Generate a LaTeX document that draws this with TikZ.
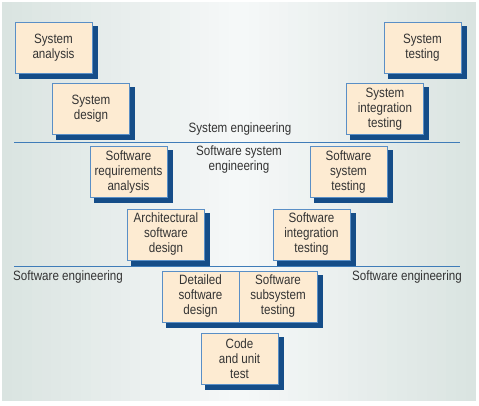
\documentclass[tikz,border=0pt]{standalone}
\usepackage{fontspec}
\setmainfont[FakeStretch=0.86]{Liberation Sans}
\definecolor{bgedge}{HTML}{DAE4E1}
\definecolor{bgmid}{HTML}{F6F8F8}
\definecolor{boxfill}{HTML}{FDEBD2}
\definecolor{boxline}{HTML}{5A8FC6}
\definecolor{shadowblue}{HTML}{154D88}
\definecolor{rule}{HTML}{3F7CB8}
\definecolor{ink}{HTML}{333333}
\pgfdeclarelayer{bglayer}
\pgfdeclarelayer{shdlayer}
\pgfsetlayers{bglayer,shdlayer,main}
\begin{document}
\begin{tikzpicture}[x=1pt,y=-1pt,
  stage/.style={draw=boxline, line width=0.8pt, fill=boxfill, minimum width=77pt, minimum height=51pt,
    inner sep=1pt, align=center, text=ink, font=\fontsize{13.5}{15}\selectfont},
  boxshadow/.style={fill=shadowblue, draw=shadowblue, line width=0.5pt},
  label/.style={text=ink, align=center, font=\fontsize{13.5}{15}\selectfont, inner sep=0pt},
  divider/.style={draw=rule, line width=0.9pt}]
\useasboundingbox (0,0) rectangle (479,406);
\begin{pgfonlayer}{bglayer}
\fill[white] (0,0) rectangle (479,406);
\foreach \i in {0,...,47}{
  \pgfmathsetmacro{\t}{100*(1-abs(\i-23.5)/23.5)}
  \fill[bgmid!\t!bgedge] ({2+\i*9.875},2) rectangle ({2.3+(\i+1)*9.875},401);
}
\end{pgfonlayer}

\node[stage] (sa) at (53.5,47.5) {System\\analysis};
\node[stage] (sd) at (91,109) {System\\design};
\node[stage] (st) at (422.5,47.5) {System\\testing};
\node[stage] (sit) at (385,109) {System\\integration\\testing};

\node[label] (syseng) at (240,129) {System engineering};
\coordinate (l1a) at (14,142);
\coordinate (l1b) at (460,142);
\draw[divider] (l1a) -- (l1b);

\node[stage] (sra) at (128.5,172) {Software\\requirements\\analysis};
\node[stage] (sst) at (348.5,172) {Software\\system\\testing};
\node[label] (sweng) at (239,160) {Software system\\engineering};

\node[stage] (asd) at (166,234.5) {Architectural\\software\\design};
\node[stage] (sint) at (311.5,234.5) {Software\\integration\\testing};

\coordinate (l2a) at (14,266);
\coordinate (l2b) at (460,266);
\draw[divider] (l2a) -- (l2b);
\node[label, anchor=west] (swl) at (13,277) {Software engineering};
\node[label, anchor=east] (swr) at (462,277) {Software engineering};

\node[stage, minimum width=77pt] (dsd) at (200.5,296.5) {Detailed\\software\\design};
\node[stage, minimum width=78pt] (sss) at (278,296.5) {Software\\subsystem\\testing};
\node[stage] (cut) at (239.5,358.5) {Code\\and unit\\test};

\begin{pgfonlayer}{shdlayer}
\foreach \n in {sa,sd,st,sit,sra,sst,asd,sint,dsd,sss,cut}
  \fill[boxshadow] ([shift={(4.5,4.5)}]\n.north west) rectangle ([shift={(4.5,4.5)}]\n.south east);
\end{pgfonlayer}
\end{tikzpicture}
\end{document}
